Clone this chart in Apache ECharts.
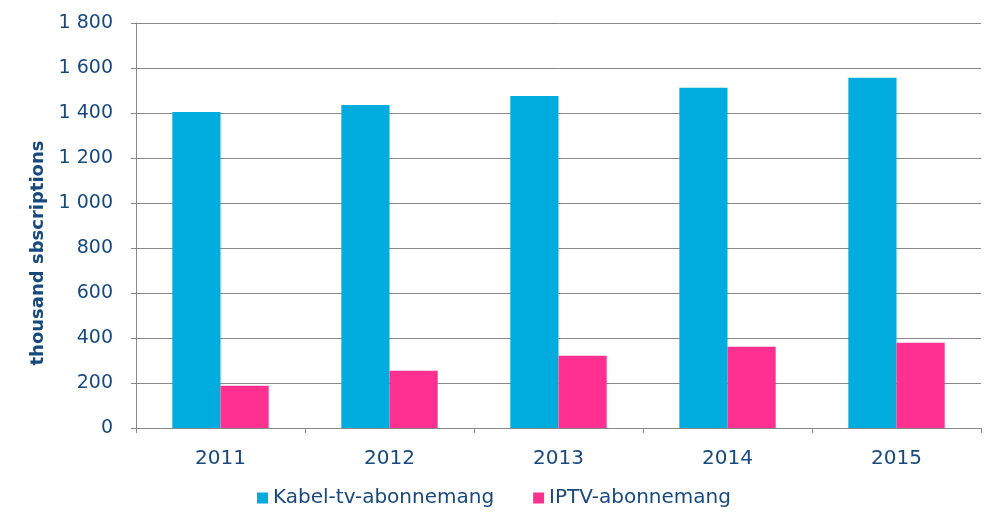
<!DOCTYPE html>
<html>
<head>
<meta charset="utf-8">
<script src="https://cdn.jsdelivr.net/npm/echarts@6/dist/echarts.min.js"></script>
<style>
html,body{margin:0;padding:0;background:#fff;}
#c{width:1004px;height:531px;}
</style>
</head>
<body>
<div id="c"></div>
<script>
const categories = ['2011', '2012', '2013', '2014', '2015'];
const kabelValues = [1404, 1436, 1476, 1512, 1557];
const iptvValues = [188, 255, 321, 361, 379];
const seriesNames = ['Kabel-tv-abonnemang', 'IPTV-abonnemang'];
const axisTitle = 'thousand sbscriptions';

const textColor = '#17497F';
const font = 'Verdana, "DejaVu Sans", sans-serif';
const chart = echarts.init(document.getElementById('c'));
chart.setOption({
  animation: false,
  grid: { left: 136, right: 23, top: 23, bottom: 103, containLabel: false },
  legend: {
    data: seriesNames,
    top: 488,
    left: 257,
    padding: 0,
    itemWidth: 11, itemHeight: 11, itemGap: 39,
    icon: 'rect',
    textStyle: { color: textColor, fontSize: 20, fontFamily: font }
  },
  graphic: [{
    type: 'text',
    x: 38, y: 253,
    rotation: Math.PI / 2,
    style: {
      text: axisTitle,
      fill: textColor,
      font: 'bold 18px ' + font,
      textAlign: 'center',
      textVerticalAlign: 'middle'
    }
  }],
  xAxis: {
    type: 'category',
    data: categories,
    axisLine: { lineStyle: { color: '#888888', width: 1 } },
    axisTick: { show: true, alignWithLabel: false, length: 5, lineStyle: { color: '#888888' } },
    axisLabel: { color: textColor, fontSize: 20, fontFamily: font, margin: 21 }
  },
  yAxis: {
    type: 'value',
    min: 0, max: 1800, interval: 200,
    axisLine: { show: true, lineStyle: { color: '#888888', width: 1 } },
    axisTick: { show: true, length: 5, lineStyle: { color: '#888888' } },
    splitLine: { lineStyle: { color: '#888888', width: 1 } },
    axisLabel: {
      color: textColor, fontSize: 19, fontFamily: font, margin: 23,
      formatter: v => String(v).replace(/\B(?=(\d{3})+(?!\d))/g, ' ')
    }
  },
  series: [
    { name: seriesNames[0], type: 'bar', data: kabelValues, barGap: '0%', barCategoryGap: '43%',
      itemStyle: { color: '#00ACDE' } },
    { name: seriesNames[1], type: 'bar', data: iptvValues,
      itemStyle: { color: '#FF3090' } }
  ]
});
</script>
</body>
</html>
